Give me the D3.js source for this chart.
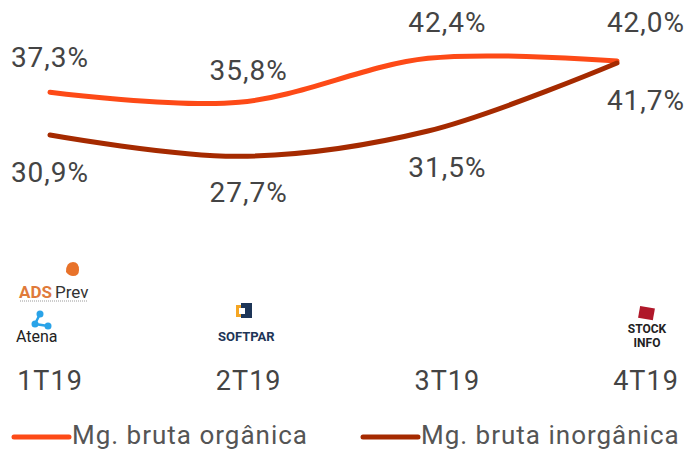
<!DOCTYPE html>
<html><head><meta charset="utf-8">
<script src="https://cdn.jsdelivr.net/npm/d3@7"></script>
<style>body{margin:0;background:#fff}svg{display:block}</style>
</head><body>
<svg id="c" width="688" height="451"></svg>
<script>
const categories = ["1T19","2T19","3T19","4T19"];
const organica = [37.3, 35.8, 42.4, 42.0];
const inorganica = [30.9, 27.7, 31.5, 41.7];
const orgLabels = ["37,3%","35,8%","42,4%","42,0%"];
const inorgLabels = ["30,9%","27,7%","31,5%","41,7%"];
const seriesNames = ["Mg. bruta orgânica","Mg. bruta inorgânica"];
const colors = ["#fd4a17","#a52a00"];

const svg = d3.select("#c");
const font = "Roboto, 'Noto Sans', sans-serif";
const xLabel = d3.scalePoint().domain(categories).range([50, 646]);
const xLine = d3.scalePoint().domain(categories).range([50, 617]);
const y = d3.scaleLinear().domain([30.9, 41.7]).range([135, 63]);

const line = d3.line().x((d,i)=>xLine(categories[i])).y(d=>y(d)).curve(d3.curveCatmullRom.alpha(0.5));
[organica, inorganica].forEach((s,k)=>{
  svg.append("path").attr("d", line(s)).attr("fill","none").attr("stroke",colors[k])
    .attr("stroke-width",5).attr("stroke-linecap","round");
});

const txt = (x,yy,t,size,anchor)=>svg.append("text").attr("x",x).attr("y",yy).text(t)
  .attr("font-family",font).attr("font-size",size).attr("letter-spacing","1px").attr("fill","#444").attr("text-anchor",anchor||"middle");

const orgY = [67, 80, 32, 32];
const inorgY = [182, 202, 177, 110];
categories.forEach((c,i)=>{
  txt(xLabel(c), orgY[i], orgLabels[i], 28);
  txt(xLabel(c), inorgY[i], inorgLabels[i], 28);
  txt(xLabel(c), 390, c, 27);
});

// logos (approximate drawings)
const g1 = svg.append("g");
g1.append("path").attr("d","M66,272 q0,-10 7,-10 q6,0 6,8 q0,6 -6,6 q-4,0 -7,-4z").attr("fill","#e8722a");
g1.append("text").attr("x",19).attr("y",298).attr("font-family",font).attr("font-weight","bold").attr("font-size",17).attr("fill","#e07a3a").text("ADS");
g1.append("text").attr("x",55).attr("y",298).attr("font-family",font).attr("font-size",17).attr("fill","#333").text("Prev");
g1.append("line").attr("x1",20).attr("x2",88).attr("y1",301).attr("y2",301).attr("stroke","#999").attr("stroke-width",1).attr("stroke-dasharray","1,1");
const g2 = svg.append("g");
g2.append("circle").attr("cx",40).attr("cy",314).attr("r",3.5).attr("fill","#2aa3e8");
g2.append("circle").attr("cx",35).attr("cy",324).attr("r",3.5).attr("fill","#2aa3e8");
g2.append("circle").attr("cx",48).attr("cy",326).attr("r",3.5).attr("fill","#2aa3e8");
g2.append("path").attr("d","M40,314 L35,324 L48,326").attr("stroke","#2aa3e8").attr("stroke-width",2.5).attr("fill","none");
g2.append("text").attr("x",16).attr("y",342).attr("font-family",font).attr("font-size",16).attr("fill","#222").text("Atena");
const g3 = svg.append("g");
g3.append("rect").attr("x",236).attr("y",305).attr("width",12).attr("height",12).attr("fill","#f5a623");
g3.append("rect").attr("x",241).attr("y",303).attr("width",11).attr("height",15).attr("fill","#1d3557");
g3.append("rect").attr("x",239).attr("y",308).attr("width",6).attr("height",6).attr("fill","#fff");
g3.append("text").attr("x",218).attr("y",341).attr("font-family",font).attr("font-weight","bold").attr("font-size",13).attr("fill","#1d3557").text("SOFTPAR");
const g4 = svg.append("g");
g4.append("rect").attr("x",639).attr("y",307).attr("width",15).attr("height",12).attr("fill","#b0182a").attr("transform","rotate(10,646,313)");
g4.append("text").attr("x",647).attr("y",333).attr("text-anchor","middle").attr("font-family",font).attr("font-weight","bold").attr("font-size",12).attr("fill","#222").text("STOCK");
g4.append("text").attr("x",647).attr("y",347).attr("text-anchor","middle").attr("font-family",font).attr("font-weight","bold").attr("font-size",12).attr("fill","#222").text("INFO");

// legend
const legX = [14, 363];
seriesNames.forEach((n,k)=>{
  svg.append("line").attr("x1",legX[k]).attr("x2",legX[k]+55).attr("y1",437).attr("y2",437)
    .attr("stroke",colors[k]).attr("stroke-width",5).attr("stroke-linecap","round");
  svg.append("text").attr("x",legX[k]+58).attr("y",444).text(n).attr("font-family",font)
    .attr("font-size",26).attr("letter-spacing","1px").attr("fill","#555");
});
</script>
</body></html>
